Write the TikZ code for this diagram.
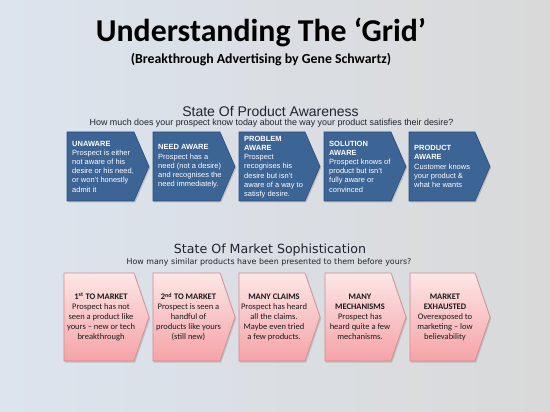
\documentclass[tikz,border=0pt]{standalone}
\usepackage{fontspec}
\setmainfont{Carlito}
\newfontfamily\helvfont{Liberation Sans}
\newfontfamily\grandefont{DejaVu Sans}
\usetikzlibrary{shadows}

\definecolor{bgleft}{HTML}{DCE4EE}
\definecolor{bgright}{HTML}{D9D9D9}
\definecolor{headink}{HTML}{1E2430}
\definecolor{awareblue}{HTML}{3C6495}
\definecolor{awareedge}{HTML}{2C4F7E}
\definecolor{sophtop}{HTML}{FDE6E6}
\definecolor{sophbottom}{HTML}{F5A3A7}
\definecolor{sophedge}{HTML}{D48A8E}
\definecolor{sophink}{HTML}{1A1A1A}

\tikzset{
  awarebox/.style={fill=awareblue, draw=awareedge, line width=0.6pt,
    drop shadow={shadow xshift=1.2pt, shadow yshift=-1.5pt, opacity=.35}},
  sophbox/.style={top color=sophtop, bottom color=sophbottom, draw=sophedge, line width=0.6pt,
    drop shadow={shadow xshift=1.2pt, shadow yshift=-1.5pt, opacity=.35}},
  awaretext/.style={font=\helvfont\fontsize{7.5}{9.2}\selectfont, text=white,
    align=left, anchor=west, inner sep=0pt},
  sophtext/.style={font=\fontsize{8.5}{10}\selectfont, text=sophink,
    align=center, inner sep=0pt},
}

\begin{document}
\begin{tikzpicture}[x=1pt,y=-1pt]
\shade[left color=bgleft, right color=bgright] (0,0) rectangle (550,412);
\useasboundingbox (0,0) rectangle (550,412);

% heading
\node[font=\bfseries\fontsize{31.8}{36}\selectfont] (title) at (261,32) {Understanding The ‘Grid’};
\node[font=\bfseries\fontsize{13.8}{15}\selectfont] (author) at (261,60) {(Breakthrough Advertising by Gene Schwartz)};

% product awareness
\node[font=\helvfont\fontsize{14}{16}\selectfont, text=headink] (awarehead) at (270.5,111) {State Of Product Awareness};
\node[font=\helvfont\fontsize{8.9}{10}\selectfont, text=headink] (awareq) at (271.5,123)
  {How much does your prospect know today about the way your product satisfies their desire?};

\foreach \l/\r in {67/134,153/220,239/305,324/391,409/475}
  \draw[awarebox] (\l,132) -- (\r,132) -- (\r+15,166.5) -- (\r,201) -- (\l,201) -- cycle;

\node[awaretext] (unaware) at (72,166.5) {\textbf{UNAWARE}\\Prospect is either\\not aware of his\\desire or his need,\\or won’t honestly\\admit it};
\node[awaretext] (needaware) at (158,166.5) {\textbf{NEED AWARE}\\Prospect has a\\need (not a desire)\\and recognises the\\need immediately.};
\node[awaretext] (problemaware) at (244,167) {\textbf{PROBLEM}\\\textbf{AWARE}\\Prospect\\recognises his\\desire but isn’t\\aware of a way to\\satisfy desire.};
\node[awaretext] (solutionaware) at (329,166.5) {\textbf{SOLUTION}\\\textbf{AWARE}\\Prospect knows of\\product but isn’t\\fully aware or\\convinced};
\node[awaretext] (productaware) at (414,166.5) {\textbf{PRODUCT}\\\textbf{AWARE}\\Customer knows\\your product \&\\what he wants};

% market sophistication
\node[font=\grandefont\fontsize{12.6}{15}\selectfont, text=headink] (sophhead) at (270,250) {State Of Market Sophistication};
\node[font=\grandefont\fontsize{7.9}{9}\selectfont, text=headink] (sophq) at (269,262)
  {How many similar products have been presented to them before yours?};

\foreach \l/\r in {64/134,153/220,239/305,325/391,410/475}
  \draw[sophbox] (\l,273) -- (\r,273) -- (\r+15,317) -- (\r,361) -- (\l,361) -- cycle;

\node[sophtext] (firstmarket) at (101,317) {\textbf{1\textsuperscript{st} TO MARKET}\\Prospect has not\\seen a product like\\yours -- new or tech\\breakthrough};
\node[sophtext] (secondmarket) at (188.5,317) {\textbf{2\textsuperscript{nd} TO MARKET}\\Prospect is seen a\\handful of\\products like yours\\(still new)};
\node[sophtext] (manyclaims) at (274,317) {\textbf{MANY CLAIMS}\\Prospect has heard\\all the claims.\\Maybe even tried\\a few products.};
\node[sophtext] (manymech) at (360,317) {\textbf{MANY}\\\textbf{MECHANISMS}\\Prospect has\\heard quite a few\\mechanisms.};
\node[sophtext] (exhausted) at (445,317) {\textbf{MARKET}\\\textbf{EXHAUSTED}\\Overexposed to\\marketing -- low\\believability};
\end{tikzpicture}
\end{document}
